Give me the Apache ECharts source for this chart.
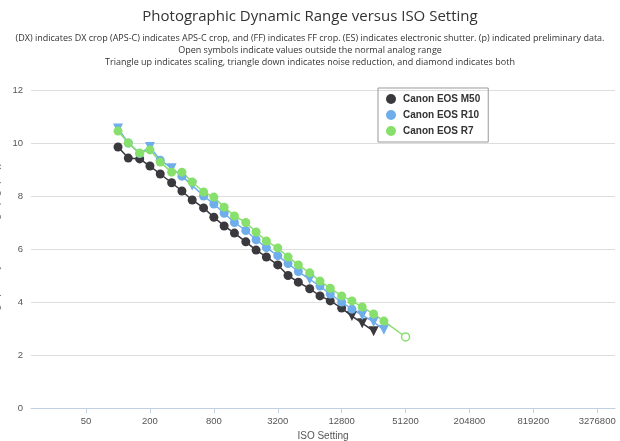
<!DOCTYPE html><html><head><meta charset="utf-8"><script src="https://cdn.jsdelivr.net/npm/echarts@6/dist/echarts.min.js"></script></head><body style="margin:0"><div id="c" style="width:620px;height:441px"></div><script>
const isoTicks=[50,200,800,3200,12800,51200,204800,819200,3276800];
const isoM50=[100,125,160,200,250,320,400,500,640,800,1000,1250,1600,2000,2500,3200,4000,5000,6400,8000,10000,12800,16000,20000,25600];
const drM50=[9.85,9.43,9.4,9.13,8.83,8.5,8.19,7.85,7.55,7.2,6.87,6.6,6.27,5.96,5.7,5.4,5.0,4.75,4.5,4.23,4.04,3.77,3.47,3.2,2.9];
const symM50=['c','c','c','c','c','c','c','c','c','c','c','c','c','c','c','c','c','c','c','c','c','c','d','d','d'];
const isoR10=[100,125,160,200,250,320,400,500,640,800,1000,1250,1600,2000,2500,3200,4000,5000,6400,8000,10000,12800,16000,20000,25600,32000];
const drR10=[10.55,10.0,9.6,9.85,9.35,9.05,8.75,8.4,8.0,7.7,7.35,7.0,6.7,6.35,6.05,5.75,5.45,5.15,4.85,4.6,4.3,4.0,3.73,3.5,3.25,2.95];
const symR10=['d','c','c','d','c','d','c','d','c','c','c','c','c','c','c','c','c','c','d','c','c','c','c','d','d','d'];
const isoR7=[100,125,160,200,250,320,400,500,640,800,1000,1250,1600,2000,2500,3200,4000,5000,6400,8000,10000,12800,16000,20000,25600,32000,51200];
const drR7=[10.45,10.0,9.62,9.74,9.28,8.9,8.9,8.53,8.15,7.96,7.58,7.25,7.0,6.64,6.3,6.04,5.7,5.4,5.1,4.79,4.52,4.23,4.04,3.81,3.55,3.28,2.68];
const symR7=['c','c','c','c','c','c','c','c','c','c','c','c','c','c','c','c','c','c','c','c','c','c','c','c','c','c','o'];
function mk(iso,dr,sym,color){return iso.map((v,i)=>{const s=sym[i];const o={value:[Math.log2(v),dr[i]]};
 if(s==='d'){o.symbol='triangle';o.symbolRotate=180;o.symbolSize=10;}
 if(s==='o'){o.itemStyle={color:'#fff',borderColor:color,borderWidth:1.5};o.symbolSize=8;}
 return o;});}
function ser(name,iso,dr,sym,color){return {name,type:'line',symbol:'circle',symbolSize:9,data:mk(iso,dr,sym,color),itemStyle:{color},lineStyle:{color,width:1.5}};}
const ch=echarts.init(document.getElementById('c'));
ch.setOption({animation:false,
title:{text:'Photographic Dynamic Range versus ISO Setting',subtext:'(DX) indicates DX crop (APS-C) indicates APS-C crop, and (FF) indicates FF crop. (ES) indicates electronic shutter. (p) indicated preliminary data.\nOpen symbols indicate values outside the normal analog range\nTriangle up indicates scaling, triangle down indicates noise reduction, and diamond indicates both',left:'center',top:4,itemGap:8,
 textStyle:{fontSize:15,fontWeight:'normal',color:'#333',fontFamily:'Open Sans'},subtextStyle:{fontSize:9,color:'#333',lineHeight:12,fontFamily:'Open Sans'}},
legend:{orient:'vertical',left:378,top:88,itemWidth:14,itemHeight:10,itemGap:6,borderColor:'#999',borderWidth:1,padding:[6,8],
 textStyle:{fontSize:10,fontWeight:'bold',color:'#333'},data:[{name:'Canon EOS M50',icon:'circle'},{name:'Canon EOS R10',icon:'circle'},{name:'Canon EOS R7',icon:'circle'}]},
grid:{left:31,right:5,top:90,bottom:33,outerBoundsMode:'none',containLabel:false},
xAxis:{type:'value',min:3.92,max:22.2,name:'ISO Setting',nameLocation:'middle',nameGap:22,nameTextStyle:{fontSize:10,color:'#555'},
 axisLine:{lineStyle:{color:'#c0d0e0'}},axisTick:{show:true,customValues:isoTicks.map(Math.log2),lineStyle:{color:'#c0d0e0'}},
 axisLabel:{customValues:isoTicks.map(Math.log2),formatter:v=>String(Math.round(Math.pow(2,v))),fontSize:9.5,color:'#555'},splitLine:{show:false}},
yAxis:{type:'value',min:0,max:12,interval:2,name:'Photographic Dynamic Range (log2(EV))',nameLocation:'middle',nameGap:20,nameTextStyle:{fontSize:9.5,color:'#555'},
 axisLabel:{fontSize:9.5,color:'#555'},axisLine:{show:false},axisTick:{show:false},splitLine:{lineStyle:{color:'#ddd'}}},
series:[ser('Canon EOS M50',isoM50,drM50,symM50,'#3a3a3e'),ser('Canon EOS R10',isoR10,drR10,symR10,'#6faeea'),ser('Canon EOS R7',isoR7,drR7,symR7,'#88e06c')]
});
</script></body></html>
